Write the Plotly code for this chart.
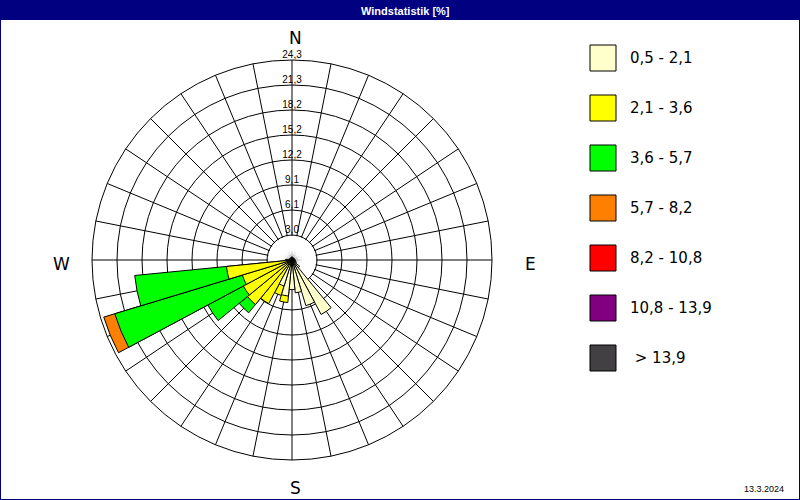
import numpy as np
import plotly.graph_objects as go

# 32 wind directions (degrees, clockwise from north)
directions = np.arange(32) * 11.25

# frequency [%] per direction and speed class (segment values, not cumulative)
freq_05_21 = [0.4, 0.3, 0.3, 0.3, 0.3, 0.3, 0.3, 0.3,
              0.4, 0.4, 0.5, 0.6, 1.2, 7.5, 5.8, 4.0,
              3.6, 4.4, 3.3, 0.6, 0.5, 0.5, 0.5, 0.5,
              0.5, 0.4, 0.3, 0.3, 0.3, 0.3, 0.3, 0.3]
freq_21_36 = [0, 0, 0, 0, 0, 0, 0, 0,
              0, 0, 0, 0, 0, 0, 0, 0,
              0, 0.8, 1.2, 5.4, 6.5, 6.2, 5.8, 7.5,
              0.3, 0, 0, 0, 0, 0, 0, 0]
freq_36_57 = [0, 0, 0, 0, 0, 0, 0, 0,
              0, 0, 0, 0, 0, 0, 0, 0,
              0, 0, 0, 0, 1.3, 4.9, 16.2, 11.2,
              0, 0, 0, 0, 0, 0, 0, 0]
freq_57_82 = [0, 0, 0, 0, 0, 0, 0, 0,
              0, 0, 0, 0, 0, 0, 0, 0,
              0, 0, 0, 0, 0, 0, 1.4, 0,
              0, 0, 0, 0, 0, 0, 0, 0]
freq_82_108 = [0] * 32
freq_108_139 = [0] * 32
freq_139 = [0] * 32

speed_classes = ["0,5 - 2,1", "2,1 - 3,6", "3,6 - 5,7", "5,7 - 8,2",
                 "8,2 - 10,8", "10,8 - 13,9", "\u00a0> 13,9"]
class_colors = ["#FFFFCC", "#FFFF00", "#00FF00", "#FF8000",
                "#FF0000", "#800080", "#424042"]

ring_values = [3.0375, 6.075, 9.1125, 12.15, 15.1875, 18.225, 21.2625, 24.3]
ring_labels = ["3,0", "6,1", "9,1", "12,2", "15,2", "18,2", "21,3", "24,3"]

freq = np.array([freq_05_21, freq_21_36, freq_36_57, freq_57_82,
                 freq_82_108, freq_108_139, freq_139])
cum = np.cumsum(freq, axis=0)

fig = go.Figure()

# white centre disc (no spokes inside)
fig.add_trace(go.Barpolar(
    r=[ring_values[0] - 0.12] * len(directions), theta=directions, width=11.25,
    marker=dict(color="white", line=dict(width=0)),
    showlegend=False, hoverinfo="skip"))

# stacked wedges, drawn outermost class first
for i in reversed(range(len(freq))):
    r = np.where(freq[i] > 0, cum[i], np.nan)
    if np.all(np.isnan(r)):
        continue
    fig.add_trace(go.Barpolar(
        r=r, theta=directions, width=11.25, name=speed_classes[i],
        marker=dict(color=class_colors[i], line=dict(color="black", width=1)),
        showlegend=False))

# ring labels along the north spoke
fig.add_trace(go.Scatterpolar(
    r=ring_values, theta=[0] * len(ring_values), mode="text",
    text=ring_labels, textposition="top center",
    textfont=dict(family="Liberation Sans", size=10, color="black"),
    cliponaxis=False, showlegend=False, hoverinfo="skip"))

W, H = 800, 500
shapes = [
    dict(type="rect", xref="paper", yref="paper", x0=0, x1=1, y0=1 - 20 / H, y1=1,
         fillcolor="#000080", line=dict(width=0)),
    dict(type="rect", xref="paper", yref="paper", x0=0, x1=1, y0=0, y1=1,
         line=dict(color="#000080", width=2)),
]
annotations = [
    dict(text="<b>Windstatistik [%]</b>", x=405 / W, y=1 - 11 / H,
         font=dict(family="Liberation Sans", size=11, color="white")),
    dict(text="13.3.2024", x=786 / W, y=1 - 489 / H, xanchor="right",
         font=dict(family="Liberation Sans", size=9, color="black")),
]
for txt, (px, py) in zip(["N", "E", "S", "W"],
                         [(295, 38), (530, 264), (295, 488), (61, 264)]):
    annotations.append(dict(text=txt, x=px / W, y=1 - py / H,
                            font=dict(family="DejaVu Sans", size=17, color="black")))

# legend boxes
for i, (lab, col) in enumerate(zip(speed_classes, class_colors)):
    cy = 58 + 50 * i
    shapes.append(dict(type="rect", xref="paper", yref="paper",
                       x0=590 / W, x1=616 / W, y0=1 - (cy + 13) / H, y1=1 - (cy - 13) / H,
                       fillcolor=col, line=dict(color="black", width=1)))
    annotations.append(dict(text=lab, x=628 / W, y=1 - cy / H, xanchor="left",
                            font=dict(family="DejaVu Sans", size=15, color="black")))

for a in annotations:
    a.setdefault("xanchor", "center")
    a.update(xref="paper", yref="paper", yanchor="middle", showarrow=False)

fig.update_layout(
    width=W, height=H,
    margin=dict(l=0, r=0, t=0, b=0),
    paper_bgcolor="white",
    showlegend=False,
    polar=dict(
        domain=dict(x=[92 / W, 492 / W], y=[1 - 460 / H, 1 - 60 / H]),
        bgcolor="white",
        barmode="overlay",
        radialaxis=dict(range=[0, 24.3], tickmode="array", tickvals=ring_values,
                        showticklabels=False, ticks="", showline=False,
                        gridcolor="black", gridwidth=1),
        angularaxis=dict(rotation=90, direction="clockwise", tickmode="array",
                         tickvals=directions, showticklabels=False, ticks="",
                         gridcolor="black", gridwidth=1,
                         showline=True, linecolor="black", linewidth=1),
    ),
    shapes=shapes,
    annotations=annotations,
)

fig.write_html("out.html", config={"displayModeBar": False},
               post_script="document.body.style.margin='0';document.body.style.overflow='hidden';")
